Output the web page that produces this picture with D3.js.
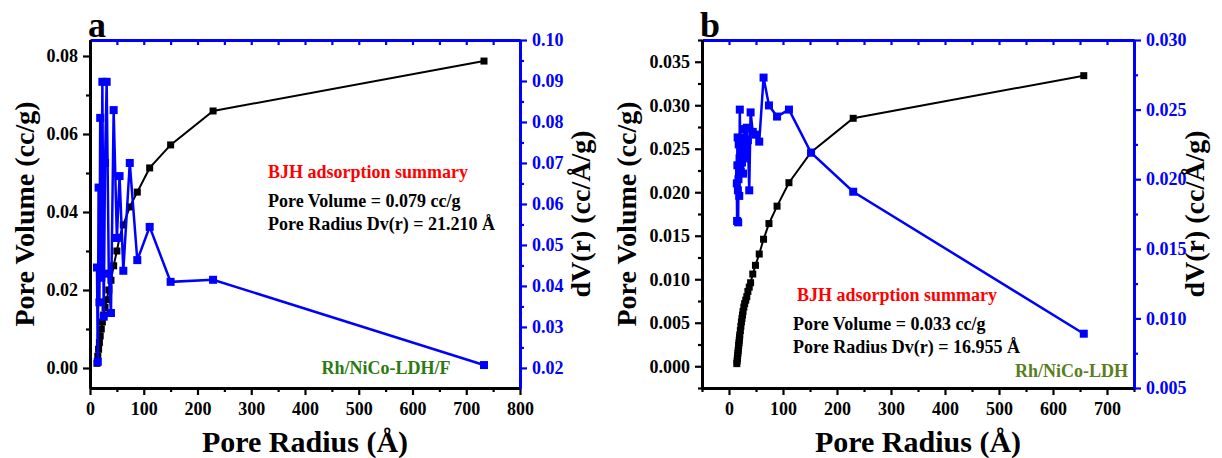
<!DOCTYPE html>
<html><head><meta charset="utf-8">
<script src="https://cdn.jsdelivr.net/npm/d3@7"></script>
<style>
body{margin:0;background:#fff}
text{font-family:"Liberation Serif","Times New Roman",serif;font-weight:bold}
</style>
</head><body><svg id="c" width="1222" height="458"></svg>
<script>
// ---------- Panel a data (Rh/NiCo-LDH/F) ----------
const radiusA = [13, 14.5, 16, 17.5, 19, 21, 23, 25.5, 28, 31, 35, 39, 44, 50, 55, 62, 74, 88, 111, 150, 229, 733];
const poreVolumeA = [0.0012, 0.0030, 0.0048, 0.0065, 0.0082, 0.0100, 0.0118, 0.0136, 0.0155, 0.0175, 0.0200, 0.0225, 0.0262, 0.0300, 0.0335, 0.0367, 0.0413, 0.0451, 0.0513, 0.0572, 0.0659, 0.0787];
const dVA = [0.0445, 0.0215, 0.0640, 0.0360, 0.0810, 0.0420, 0.0898, 0.0325, 0.0700, 0.0898, 0.0430, 0.0334, 0.0829, 0.0517, 0.0668, 0.0437, 0.0700, 0.0463, 0.0544, 0.0410, 0.0415, 0.0207];
// ---------- Panel b data (Rh/NiCo-LDH) ----------
const radiusB = [14.5, 15, 15.5, 16, 16.5, 17, 17.5, 18, 18.5, 19, 19.5, 20, 21, 22, 23, 24, 25, 26, 27.5, 29, 31, 33, 35, 37.5, 40, 44, 49, 56, 64, 74, 89, 111, 152, 230, 657];
const poreVolumeB = [0.0003, 0.0006, 0.0009, 0.0012, 0.0015, 0.0018, 0.0021, 0.0024, 0.0027, 0.0030, 0.0033, 0.0036, 0.0041, 0.0046, 0.0051, 0.0055, 0.0059, 0.0063, 0.0068, 0.0072, 0.0076, 0.0080, 0.0086, 0.0091, 0.0096, 0.0106, 0.0116, 0.0129, 0.0146, 0.0164, 0.0184, 0.0211, 0.0246, 0.0285, 0.0334];
const dVB = [0.0197, 0.0170, 0.0210, 0.0230, 0.0192, 0.0169, 0.0200, 0.0225, 0.0205, 0.0188, 0.0215, 0.0250, 0.0220, 0.0205, 0.0222, 0.0212, 0.0230, 0.0204, 0.0225, 0.0236, 0.0215, 0.0237, 0.0228, 0.0192, 0.0248, 0.0234, 0.0232, 0.0227, 0.0273, 0.0253, 0.0245, 0.0250, 0.0219, 0.0191, 0.0089];
// ---------- Tick labels ----------
const xTicksA = [0, 100, 200, 300, 400, 500, 600, 700, 800];
const leftTicksA = [0.00, 0.02, 0.04, 0.06, 0.08];
const rightTicksA = [0.02, 0.03, 0.04, 0.05, 0.06, 0.07, 0.08, 0.09, 0.10];
const xTicksB = [0, 100, 200, 300, 400, 500, 600, 700];
const leftTicksB = [0.000, 0.005, 0.010, 0.015, 0.020, 0.025, 0.030, 0.035];
const rightTicksB = [0.005, 0.010, 0.015, 0.020, 0.025, 0.030];

const svg = d3.select("#c");
const BLUE = "#0000ff";

function panel(cfg) {
  const x = d3.scaleLinear().domain(cfg.xDom).range([cfg.L, cfg.R]);
  const yl = d3.scaleLinear().domain(cfg.ylDom).range([cfg.B, cfg.T]);
  const yr = d3.scaleLinear().domain(cfg.yrDom).range([cfg.B, cfg.T]);
  const g = svg.append("g");

  function styleAxis(sel, color, w) {
    sel.attr("font-family", null);
    sel.selectAll("path.domain").attr("stroke", color).attr("stroke-width", w);
    sel.selectAll(".tick line").attr("stroke", color).attr("stroke-width", 2.2);
    sel.selectAll("text").attr("fill", color).style("font-size", "18px")
      .style("font-family", '"Liberation Serif","Times New Roman",serif').style("font-weight", "bold");
  }
  const mk = (ax, vals, size) => ax.tickValues(vals).tickSize(size).tickSizeOuter(0).tickFormat("");

  // bottom
  g.append("g").attr("transform", `translate(0,${cfg.B})`)
    .call(mk(d3.axisBottom(x), cfg.xMinor, 4)).call(s => styleAxis(s, "#000", 3));
  g.append("g").attr("transform", `translate(0,${cfg.B})`)
    .call(d3.axisBottom(x).tickValues(cfg.xTicks).tickSize(7).tickSizeOuter(0).tickPadding(7).tickFormat(d3.format("d")))
    .call(s => styleAxis(s, "#000", 3));
  // top (inward ticks)
  g.append("g").attr("transform", `translate(0,${cfg.T})`)
    .call(d3.axisBottom(x).tickValues(cfg.xTicks.concat(cfg.xMinor)).tickSize(5).tickSizeOuter(0).tickFormat(""))
    .call(s => styleAxis(s, BLUE, 3));
  // left
  g.append("g").attr("transform", `translate(${cfg.L},0)`)
    .call(mk(d3.axisLeft(yl), cfg.ylMinor, 4)).call(s => styleAxis(s, "#000", 3));
  g.append("g").attr("transform", `translate(${cfg.L},0)`)
    .call(d3.axisLeft(yl).tickValues(cfg.ylTicks).tickSize(7).tickSizeOuter(0).tickPadding(5).tickFormat(d3.format(cfg.ylFmt)))
    .call(s => styleAxis(s, "#000", 3));
  // right
  g.append("g").attr("transform", `translate(${cfg.R},0)`)
    .call(mk(d3.axisRight(yr), cfg.yrMinor, 4)).call(s => styleAxis(s, BLUE, 3));
  g.append("g").attr("transform", `translate(${cfg.R},0)`)
    .call(d3.axisRight(yr).tickValues(cfg.yrTicks).tickSize(7).tickSizeOuter(0).tickPadding(5).tickFormat(d3.format(cfg.yrFmt)))
    .call(s => styleAxis(s, BLUE, 3));

  // series
  const vol = cfg.radius.map((r, i) => [r, cfg.vol[i]]);
  const dv = cfg.radius.map((r, i) => [r, cfg.dv[i]]);
  g.append("path").datum(vol).attr("fill", "none").attr("stroke", "#000").attr("stroke-width", 2)
    .attr("d", d3.line().x(d => x(d[0])).y(d => yl(d[1])));
  g.selectAll(null).data(vol).enter().append("rect")
    .attr("x", d => x(d[0]) - 3.5).attr("y", d => yl(d[1]) - 3.5).attr("width", 7).attr("height", 7).attr("fill", "#000");
  g.append("path").datum(dv).attr("fill", "none").attr("stroke", BLUE).attr("stroke-width", 2.5)
    .attr("d", d3.line().x(d => x(d[0])).y(d => yr(d[1])));
  g.selectAll(null).data(dv).enter().append("rect")
    .attr("x", d => x(d[0]) - 4).attr("y", d => yr(d[1]) - 4).attr("width", 8).attr("height", 8).attr("fill", BLUE);

  // titles
  g.append("text").attr("x", (cfg.L + cfg.R) / 2).attr("y", 452).attr("text-anchor", "middle")
    .style("font-size", "30px").text("Pore Radius (Å)");
  g.append("text").attr("transform", `translate(${cfg.L - cfg.ltOff},${214}) rotate(-90)`).attr("text-anchor", "middle")
    .style("font-size", "28px").text("Pore Volume (cc/g)");
  g.append("text").attr("transform", `translate(${cfg.R + 70},${214}) rotate(-90)`).attr("text-anchor", "middle")
    .style("font-size", "28px").text("dV(r) (cc/Å/g)");
  g.append("text").attr("x", cfg.L - 2).attr("y", 37).style("font-size", "36px").text(cfg.letter);

  // annotations
  g.append("text").attr("x", cfg.annX).attr("y", cfg.annY).attr("fill", "#ff0000").style("font-size", "18px").text("BJH adsorption summary");
  g.append("text").attr("x", cfg.annX2).attr("y", cfg.annY + 29).attr("fill", "#000").style("font-size", "18px").text(cfg.pv);
  g.append("text").attr("x", cfg.annX2).attr("y", cfg.annY + 52).attr("fill", "#000").style("font-size", "18px").text(cfg.pr);
  g.append("text").attr("x", cfg.sx).attr("y", cfg.sy).attr("text-anchor", cfg.sAnchor).attr("fill", cfg.sColor)
    .style("font-size", "18px").text(cfg.sample);
}

panel({
  L: 90, R: 520, T: 40, B: 388, ltOff: 56,
  xDom: [0, 800], ylDom: [-0.00513, 0.0841], yrDom: [0.0151, 0.10],
  xTicks: xTicksA, xMinor: [50, 150, 250, 350, 450, 550, 650, 750],
  ylTicks: leftTicksA, ylMinor: [0.01, 0.03, 0.05, 0.07], ylFmt: ".2f",
  yrTicks: rightTicksA, yrMinor: [0.025, 0.035, 0.045, 0.055, 0.065, 0.075, 0.085, 0.095], yrFmt: ".2f",
  radius: radiusA, vol: poreVolumeA, dv: dVA,
  letter: "a",
  annX: 268, annX2: 268, annY: 178,
  pv: "Pore Volume = 0.079 cc/g", pr: "Pore Radius Dv(r) = 21.210 Å",
  sample: "Rh/NiCo-LDH/F", sx: 386, sy: 374, sAnchor: "middle", sColor: "#2a7a12"
});

panel({
  L: 702, R: 1134, T: 40, B: 388, ltOff: 66,
  xDom: [-50, 750], ylDom: [-0.0025, 0.0375], yrDom: [0.005, 0.030],
  xTicks: xTicksB, xMinor: [-50, 50, 150, 250, 350, 450, 550, 650, 750],
  ylTicks: leftTicksB, ylMinor: [-0.0025, 0.0025, 0.0075, 0.0125, 0.0175, 0.0225, 0.0275, 0.0325, 0.0375], ylFmt: ".3f",
  yrTicks: rightTicksB, yrMinor: [0.0075, 0.0125, 0.0175, 0.0225, 0.0275], yrFmt: ".3f",
  radius: radiusB, vol: poreVolumeB, dv: dVB,
  letter: "b",
  annX: 797, annX2: 793, annY: 301,
  pv: "Pore Volume = 0.033 cc/g", pr: "Pore Radius Dv(r) = 16.955 Å",
  sample: "Rh/NiCo-LDH", sx: 1128, sy: 377, sAnchor: "end", sColor: "#5a7d20"
});
</script>
</body></html>
